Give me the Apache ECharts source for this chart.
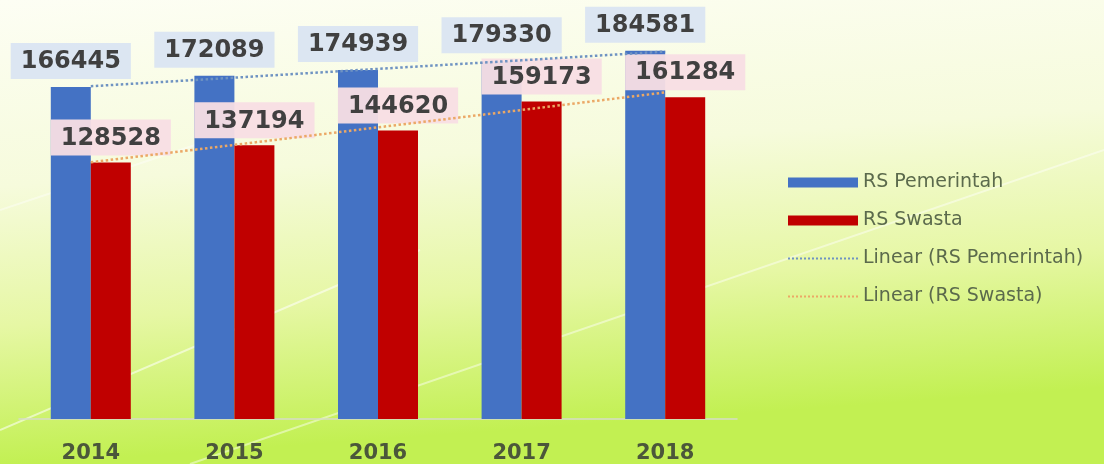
<!DOCTYPE html>
<html>
<head>
<meta charset="utf-8">
<script src="https://cdn.jsdelivr.net/npm/echarts@6/dist/echarts.min.js"></script>
<style>
  html, body { margin: 0; padding: 0; }
  #chart { width: 1104px; height: 464px; }
</style>
</head>
<body>
<div id="chart"></div>
<script>
// data
var years = ['2014', '2015', '2016', '2017', '2018'];
var rsPemerintah = [166445, 172089, 174939, 179330, 184581];
var rsSwasta = [128528, 137194, 144620, 159173, 161284];
// dotted trend lines
var trendPemerintah = [166800, 171100, 175500, 179800, 184200];
var trendSwasta = [128700, 137400, 146200, 154900, 163700];

var myChart = echarts.init(document.getElementById('chart'));

var option = {
    backgroundColor: {
        type: 'linear', x: 0, y: 0, x2: 0.03, y2: 1,
        colorStops: [
            { offset: 0, color: '#fdfef4' },
            { offset: 0.4, color: '#f6fbdc' },
            { offset: 0.7, color: '#e6f7a4' },
            { offset: 1, color: '#c2f052' }
        ]
    },
    textStyle: { fontFamily: 'DejaVu Sans' },
    graphic: [
        // faint light streaks of the slide background
        { type: 'line', silent: true, z: -1, shape: { x1: 0, y1: 430, x2: 420, y2: 250 }, style: { stroke: 'rgba(255,255,255,0.55)', lineWidth: 2 } },
        { type: 'line', silent: true, z: -1, shape: { x1: 190, y1: 464, x2: 1104, y2: 150 }, style: { stroke: 'rgba(255,255,255,0.45)', lineWidth: 2 } },
        { type: 'line', silent: true, z: -1, shape: { x1: 0, y1: 210, x2: 300, y2: 110 }, style: { stroke: 'rgba(255,255,255,0.4)', lineWidth: 2 } }
    ],
    legend: {
        orient: 'vertical',
        left: 782,
        top: 168,
        itemWidth: 70,
        itemHeight: 10,
        itemGap: 19,
        textStyle: { color: '#5b6a4c', fontSize: 19, fontFamily: 'DejaVu Sans' },
        data: [
            { name: 'RS Pemerintah', icon: 'rect' },
            { name: 'RS Swasta', icon: 'rect' },
            { name: 'Linear (RS Pemerintah)', itemStyle: { color: 'rgba(0,0,0,0)', borderWidth: 0 } },
            { name: 'Linear (RS Swasta)', itemStyle: { color: 'rgba(0,0,0,0)', borderWidth: 0 } }
        ]
    },
    grid: { left: 19, right: 367, top: 20, bottom: 43 },
    xAxis: {
        type: 'category',
        data: years,
        axisTick: { show: false },
        axisLine: { lineStyle: { color: '#d6dcc8', width: 1.5 } },
        axisLabel: { margin: 24, color: '#4b573a', fontSize: 21, fontWeight: 'bold' }
    },
    yAxis: {
        type: 'value',
        min: 0,
        max: 200000,
        show: false,
        splitLine: { show: false }
    },
    series: [
        {
            name: 'RS Pemerintah',
            type: 'bar',
            barWidth: 40,
            barGap: 0,
            data: rsPemerintah,
            itemStyle: { color: '#4472c4' },
            label: {
                show: true,
                position: 'top',
                distance: 8,
                color: '#404040',
                fontSize: 24,
                fontWeight: 'bold',
                backgroundColor: 'rgba(218,229,242,0.95)',
                padding: [7, 10, 5, 10]
            }
        },
        {
            name: 'RS Swasta',
            type: 'bar',
            barWidth: 40,
            data: rsSwasta,
            itemStyle: { color: '#c00000' },
            label: {
                show: true,
                position: 'top',
                distance: 7,
                color: '#404040',
                fontSize: 24,
                fontWeight: 'bold',
                backgroundColor: 'rgba(248,222,228,0.95)',
                padding: [7, 10, 5, 10]
            }
        },
        {
            name: 'Linear (RS Pemerintah)',
            type: 'line',
            data: trendPemerintah,
            symbol: 'none',
            z: 3,
            itemStyle: { color: '#6f93c2' },
            lineStyle: { color: '#6f93c2', width: 2.5, type: 'dotted' }
        },
        {
            name: 'Linear (RS Swasta)',
            type: 'line',
            data: trendSwasta,
            symbol: 'none',
            z: 3,
            itemStyle: { color: '#eba866' },
            lineStyle: { color: '#eba866', width: 2.5, type: 'dotted' }
        }
    ]
};

myChart.setOption(option);
</script>
</body>
</html>
